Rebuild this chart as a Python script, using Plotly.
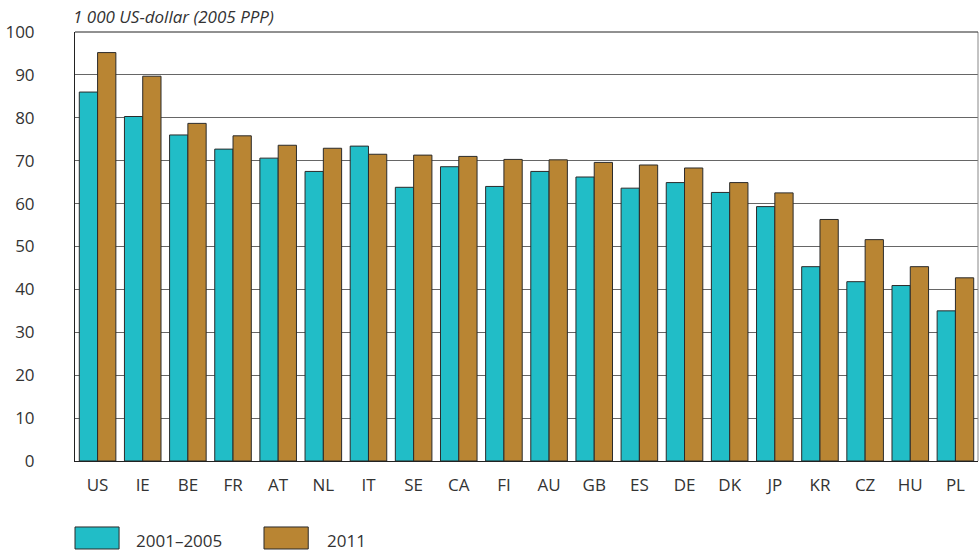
import plotly.graph_objects as go

countries = ["US", "IE", "BE", "FR", "AT", "NL", "IT", "SE", "CA", "FI",
             "AU", "GB", "ES", "DE", "DK", "JP", "KR", "CZ", "HU", "PL"]
v_2001_2005 = [86.0, 80.3, 76.0, 72.7, 70.6, 67.5, 73.4, 63.8, 68.6, 64.0,
               67.5, 66.2, 63.6, 64.9, 62.6, 59.3, 45.3, 41.8, 40.9, 35.0]
v_2011 = [95.2, 89.7, 78.7, 75.8, 73.6, 72.9, 71.5, 71.3, 71.0, 70.3,
          70.2, 69.6, 69.0, 68.3, 64.9, 62.5, 56.3, 51.6, 45.3, 42.7]
series_names = ["2001–2005", "2011"]
y_ticks = [0, 10, 20, 30, 40, 50, 60, 70, 80, 90, 100]
unit_label = "1 000 US-dollar (2005 PPP)"

TEAL = "#21BDC7"
GOLD = "#B98533"
OUTLINE = "#2b2b2b"
FONT = "Open Sans"

fig = go.Figure()
fig.add_trace(go.Bar(x=countries, y=v_2001_2005, name=series_names[0],
                     marker=dict(color=TEAL, line=dict(color=OUTLINE, width=1))))
fig.add_trace(go.Bar(x=countries, y=v_2011, name=series_names[1],
                     marker=dict(color=GOLD, line=dict(color=OUTLINE, width=1))))

fig.update_layout(
    width=980, height=553,
    margin=dict(l=75, r=2, t=32, b=92),
    paper_bgcolor="white", plot_bgcolor="white",
    barmode="group", bargap=0.19, bargroupgap=0,
    showlegend=False,
    font=dict(family=FONT, size=17, color="#333333"),
)
fig.update_xaxes(
    showgrid=False, showline=True, linecolor="#222222", linewidth=1,
    ticks="", ticklabelstandoff=9, tickfont=dict(size=17, color="#333333"),
    mirror=False,
)
fig.update_yaxes(
    range=[0, 100], tickvals=y_ticks, showgrid=True, gridcolor="#666666",
    gridwidth=1, showline=True, linecolor="#222222", linewidth=1,
    ticks="", ticklabelstandoff=36, tickfont=dict(size=17, color="#333333"),
    zeroline=False,
)
# right border line of plot area
fig.add_shape(type="line", xref="paper", yref="paper", x0=1, x1=1, y0=0, y1=1,
              line=dict(color="#888888", width=1))
# top line at 100
fig.add_shape(type="line", xref="paper", yref="paper", x0=0, x1=1, y0=1, y1=1,
              line=dict(color="#222222", width=1))

fig.add_annotation(text=unit_label, xref="paper", yref="paper",
                   x=-0.004, y=1.035, xanchor="left", yanchor="middle",
                   showarrow=False, font=dict(family=FONT, size=17, color="#333333", style="italic"))

# manual legend
legend_items = [(series_names[0], TEAL, 0.0, 0.0488, 0.0665),
                (series_names[1], GOLD, 0.2093, 0.2583, 0.278)]
for name, col, x0, x1, tx in legend_items:
    fig.add_shape(type="rect", xref="paper", yref="paper", x0=x0, x1=x1,
                  y0=-0.2051, y1=-0.1538, fillcolor=col,
                  line=dict(color=OUTLINE, width=1))
    fig.add_annotation(text=name, xref="paper", yref="paper", x=tx, y=-0.1855,
                       xanchor="left", yanchor="middle", showarrow=False,
                       borderpad=0,
                       font=dict(family=FONT, size=17, color="#333333"))

fig.write_html("out.html", config={"displayModeBar": False},
               post_script="document.body.style.margin='0';document.body.style.overflow='hidden';")
